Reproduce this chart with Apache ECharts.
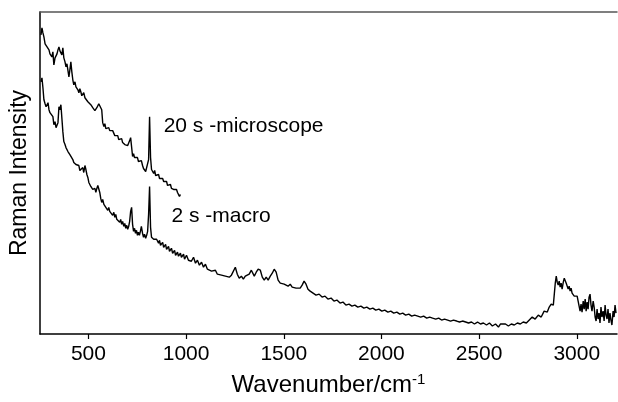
<!DOCTYPE html>
<html>
<head>
<meta charset="utf-8">
<script src="https://cdn.jsdelivr.net/npm/echarts@6/dist/echarts.min.js"></script>
<style>
  html, body { margin: 0; padding: 0; background: #fff; }
  #chart { width: 618px; height: 402px; }
</style>
</head>
<body>
<div id="chart"></div>
<script>
// wavenumber (cm-1), intensity (arb. units)
const microSpectrum = [
  [257, 300], [262, 307], [267, 302], [272, 298], [278, 291], [283, 293], [288, 288], [293, 290],
  [298, 285], [303, 281], [308, 282], [313, 278], [318, 283], [323, 270], [329, 277], [334, 275],
  [339, 281], [344, 285], [349, 288], [354, 284], [359, 282], [364, 280], [369, 287], [374, 277],
  [380, 273], [385, 268], [390, 271], [395, 272], [400, 258], [405, 265], [410, 273], [415, 263],
  [420, 255], [425, 250], [431, 253], [436, 248], [441, 250], [446, 245], [451, 242], [456, 246],
  [461, 243], [466, 239], [471, 238], [476, 242], [482, 237], [487, 235], [492, 238], [497, 233],
  [502, 234], [507, 231], [512, 230], [517, 232], [522, 227], [527, 229], [533, 224], [538, 223],
  [543, 227], [548, 228], [553, 231], [558, 233], [563, 229], [568, 225], [573, 212], [579, 208],
  [584, 211], [589, 206], [594, 208], [599, 205], [604, 207], [609, 204], [614, 206], [619, 202],
  [624, 204], [630, 202], [635, 199], [640, 201], [645, 198], [650, 199], [655, 195], [660, 197],
  [665, 194], [670, 196], [675, 192], [681, 193], [686, 190], [691, 192], [696, 188], [701, 189],
  [706, 191], [711, 194], [716, 197], [721, 195], [726, 178], [731, 181], [736, 177], [741, 179],
  [746, 175], [751, 177], [756, 173], [761, 175], [766, 172], [771, 174], [777, 169], [782, 166],
  [787, 168], [793, 163], [798, 165], [803, 162], [808, 175], [813, 218], [818, 177], [823, 165],
  [829, 167], [834, 161], [839, 164], [844, 159], [849, 161], [854, 158], [859, 160], [864, 156],
  [869, 158], [874, 154], [880, 156], [885, 153], [890, 155], [895, 151], [900, 153], [905, 149],
  [910, 151], [915, 148], [920, 150], [925, 146], [931, 148], [936, 145], [941, 147], [946, 143],
  [951, 145], [956, 142], [961, 143], [966, 138], [971, 140]
];

const macroSpectrum = [
  [257, 253], [262, 257], [267, 247], [272, 235], [278, 231], [283, 228], [288, 230], [293, 232],
  [298, 225], [303, 222], [308, 220], [313, 222], [318, 218], [323, 210], [329, 213], [334, 207],
  [339, 209], [344, 212], [349, 228], [354, 225], [359, 230], [364, 228], [369, 203], [374, 193],
  [380, 190], [385, 187], [390, 185], [395, 183], [400, 185], [405, 180], [410, 178], [415, 180],
  [420, 175], [425, 172], [431, 174], [436, 170], [441, 172], [446, 168], [451, 169], [456, 164],
  [461, 166], [466, 163], [471, 167], [476, 162], [482, 169], [487, 165], [492, 160], [497, 157],
  [502, 152], [507, 154], [512, 148], [517, 150], [522, 145], [527, 143], [533, 146], [538, 142],
  [543, 146], [548, 149], [553, 147], [558, 142], [563, 136], [568, 132], [573, 135], [579, 130],
  [584, 132], [589, 127], [594, 129], [599, 124], [604, 127], [609, 123], [614, 122], [619, 125],
  [624, 119], [630, 122], [635, 117], [640, 120], [645, 115], [650, 116], [655, 117], [660, 112],
  [665, 115], [670, 110], [675, 113], [681, 108], [686, 111], [691, 106], [696, 109], [701, 105],
  [706, 108], [711, 113], [716, 123], [721, 127], [726, 110], [731, 103], [736, 106], [741, 101],
  [746, 104], [751, 99], [756, 102], [761, 99], [766, 103], [771, 108], [777, 101], [782, 97],
  [787, 100], [793, 96], [798, 99], [803, 103], [808, 120], [813, 148], [818, 107], [823, 97],
  [829, 99], [834, 95], [839, 97], [844, 93], [849, 95], [859, 91], [864, 94], [869, 89],
  [880, 92], [885, 87], [895, 90], [900, 85], [910, 88], [915, 83], [925, 86], [931, 81],
  [941, 84], [946, 79], [956, 82], [961, 78], [971, 81], [976, 77], [987, 80], [992, 75],
  [1002, 79], [1012, 74], [1022, 76], [1027, 73], [1038, 77], [1048, 71], [1058, 74], [1068, 69],
  [1079, 72], [1089, 67], [1099, 70], [1109, 65], [1119, 67], [1130, 63], [1140, 61], [1150, 64],
  [1160, 60], [1170, 62], [1181, 59], [1191, 61], [1201, 58], [1211, 60], [1221, 57], [1232, 59],
  [1242, 61], [1252, 67], [1257, 65], [1262, 60], [1272, 56], [1283, 58], [1293, 55], [1303, 58],
  [1313, 56], [1323, 60], [1334, 64], [1339, 65], [1349, 58], [1359, 62], [1369, 65], [1380, 64],
  [1390, 57], [1400, 54], [1410, 57], [1420, 54], [1431, 58], [1441, 61], [1451, 65], [1461, 62],
  [1471, 54], [1482, 51], [1492, 53], [1502, 50], [1512, 52], [1522, 48], [1533, 50], [1543, 47],
  [1553, 49], [1563, 46], [1573, 48], [1584, 46], [1594, 49], [1604, 53], [1614, 50], [1624, 45],
  [1635, 43], [1650, 41], [1665, 39], [1681, 40], [1696, 37], [1711, 38], [1726, 35], [1742, 36],
  [1757, 33], [1772, 34], [1788, 31], [1803, 32], [1818, 29], [1834, 30], [1849, 28], [1864, 29],
  [1879, 27], [1895, 28], [1910, 26], [1925, 27], [1941, 25], [1956, 26], [1971, 24], [1987, 25],
  [2002, 23], [2017, 24], [2033, 22], [2048, 23], [2063, 21], [2079, 22], [2094, 20], [2109, 21],
  [2124, 19], [2140, 20], [2155, 18], [2170, 19], [2186, 18], [2201, 17], [2216, 18], [2232, 16],
  [2247, 17], [2262, 16], [2278, 15], [2293, 16], [2308, 14], [2323, 15], [2339, 14], [2354, 13],
  [2369, 14], [2385, 13], [2400, 12], [2415, 13], [2431, 12], [2446, 11], [2461, 12], [2476, 10],
  [2492, 12], [2507, 10], [2522, 11], [2538, 9], [2553, 11], [2568, 8], [2584, 10], [2599, 7],
  [2609, 10], [2619, 8], [2635, 10], [2650, 8], [2665, 10], [2680, 9], [2696, 11], [2711, 10],
  [2726, 12], [2742, 11], [2757, 14], [2772, 17], [2787, 15], [2803, 19], [2818, 17], [2833, 23],
  [2849, 22], [2859, 27], [2869, 30], [2880, 29], [2885, 40], [2890, 51], [2895, 58], [2900, 52],
  [2905, 49], [2910, 53], [2915, 47], [2920, 51], [2925, 45], [2931, 52], [2936, 56], [2941, 58],
  [2946, 51], [2951, 53], [2956, 45], [2961, 48], [2966, 43], [2971, 46], [2976, 41], [2982, 43],
  [2987, 38], [2992, 40], [2997, 36], [3002, 38], [3007, 33], [3012, 28], [3017, 23], [3022, 30],
  [3027, 22], [3033, 33], [3038, 25], [3043, 35], [3048, 23], [3053, 32], [3058, 25], [3063, 37],
  [3068, 40], [3073, 29], [3078, 23], [3084, 33], [3089, 27], [3094, 17], [3099, 13], [3104, 25],
  [3109, 15], [3114, 21], [3119, 11], [3124, 27], [3129, 17], [3135, 23], [3140, 13], [3145, 29],
  [3150, 19], [3155, 15], [3160, 25], [3165, 11], [3170, 21], [3175, 14], [3180, 9], [3186, 23],
  [3191, 17], [3196, 29], [3201, 21]
];

const xTickValues = [500, 1000, 1500, 2000, 2500, 3000];
const xRange = [252, 3206];
const yRange = [0, 323];

const microLabel = { text: '20 s -microscope', at: [885, 208] };
const macroLabel = { text: '2 s -macro', at: [925, 118] };

const fontFamily = '"Liberation Sans", Arial, Helvetica, sans-serif';

const chart = echarts.init(document.getElementById('chart'));

function annotation(lbl) {
  return {
    symbol: 'circle',
    symbolSize: 0,
    silent: true,
    data: [{ coord: lbl.at, value: lbl.text }],
    label: {
      show: true,
      position: 'right',
      distance: 0,
      formatter: lbl.text,
      color: '#000',
      fontSize: 21,
      fontFamily: fontFamily
    }
  };
}

const option = {
  animation: false,
  backgroundColor: '#fff',
  grid: { left: 39, right: 1, top: 12, bottom: 67 },
  xAxis: [
    {
      type: 'value',
      position: 'bottom',
      min: xRange[0],
      max: xRange[1],
      axisLine: { onZero: false, lineStyle: { color: '#000', width: 1.5 } },
      axisTick: { customValues: xTickValues, length: 5, lineStyle: { color: '#000', width: 1.2 } },
      axisLabel: {
        customValues: xTickValues,
        formatter: v => String(v),
        fontSize: 21,
        color: '#000',
        margin: 10,
        fontFamily: fontFamily
      },
      splitLine: { show: false },
      name: '{a|Wavenumber/cm}{b|-1}',
      nameLocation: 'middle',
      nameGap: 38,
      nameTextStyle: {
        fontFamily: fontFamily,
        rich: {
          a: { fontSize: 24, color: '#000', fontFamily: fontFamily, lineHeight: 26 },
          b: { fontSize: 15, color: '#000', fontFamily: fontFamily, verticalAlign: 'top', lineHeight: 15 }
        }
      }
    },
    {
      type: 'value',
      position: 'top',
      min: xRange[0],
      max: xRange[1],
      axisLine: { onZero: false, lineStyle: { color: '#555', width: 1.5 } },
      axisTick: { show: false },
      axisLabel: { show: false },
      splitLine: { show: false }
    }
  ],
  yAxis: {
    type: 'value',
    min: yRange[0],
    max: yRange[1],
    axisLine: { show: true, onZero: false, lineStyle: { color: '#000', width: 1.5 } },
    axisTick: { show: false },
    axisLabel: { show: false },
    splitLine: { show: false },
    name: 'Raman Intensity',
    nameLocation: 'middle',
    nameGap: 9,
    nameTextStyle: { fontSize: 23, color: '#000', fontFamily: fontFamily }
  },
  series: [
    {
      name: '20 s -microscope',
      type: 'line',
      data: microSpectrum,
      showSymbol: false,
      silent: true,
      lineStyle: { color: '#000', width: 1.4 },
      markPoint: annotation(microLabel)
    },
    {
      name: '2 s -macro',
      type: 'line',
      data: macroSpectrum,
      showSymbol: false,
      silent: true,
      lineStyle: { color: '#000', width: 1.4 },
      markPoint: annotation(macroLabel)
    }
  ]
};

chart.setOption(option);
window.addEventListener('resize', chart.resize);
</script>
</body>
</html>
